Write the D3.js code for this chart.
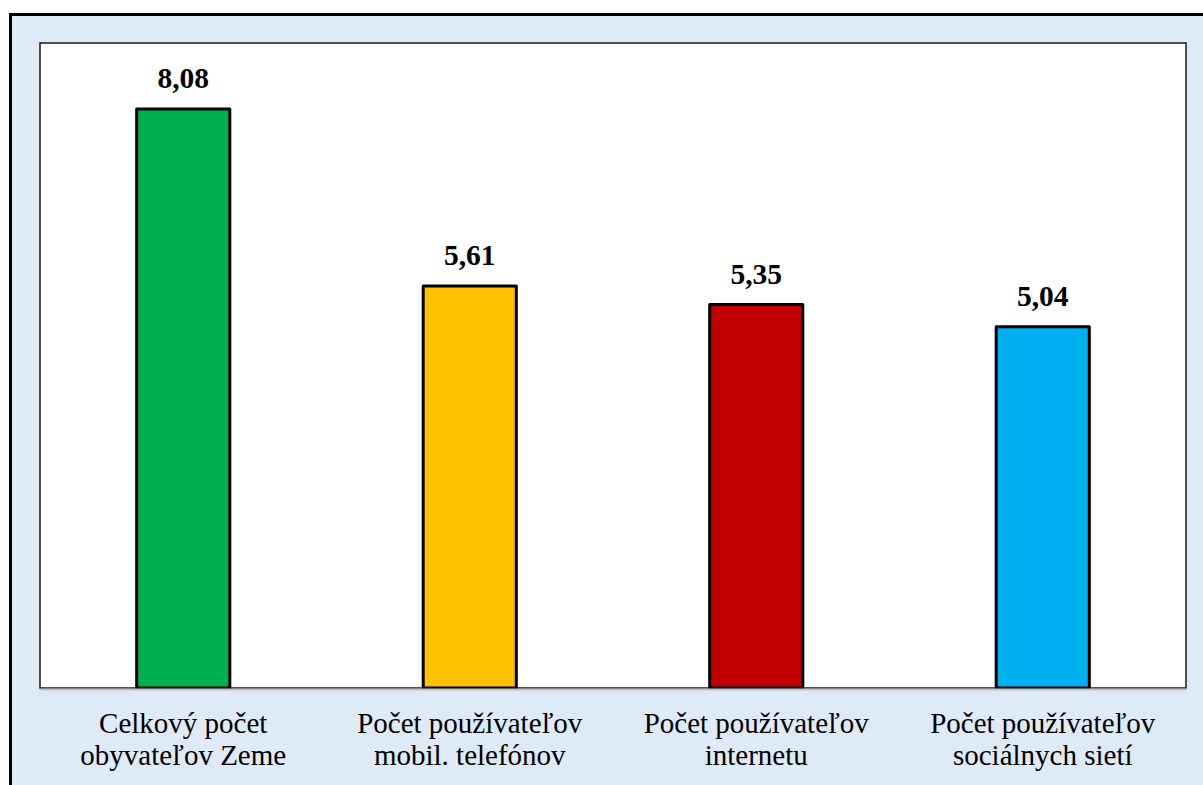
<!DOCTYPE html>
<html>
<head>
<meta charset="utf-8">
<script src="https://cdn.jsdelivr.net/npm/d3@7"></script>
<style>
html,body{margin:0;padding:0;background:#fff;overflow:hidden;}
svg{display:block;}
text{font-family:"Liberation Serif","Times New Roman",Times,serif;}
</style>
</head>
<body>
<svg id="chart" width="1203" height="785"></svg>
<script>
const categories = [
  ["Celkový počet", "obyvateľov Zeme"],
  ["Počet používateľov", "mobil. telefónov"],
  ["Počet používateľov", "internetu"],
  ["Počet používateľov", "sociálnych sietí"]
];
const values = [8.08, 5.61, 5.35, 5.04];
const valueLabels = ["8,08", "5,61", "5,35", "5,04"];
const colors = ["#00B050", "#FFC000", "#C00000", "#00B0F0"];

const svg = d3.select("#chart");
const plot = {left: 40, top: 43, right: 1186, bottom: 688};

// outer frame
svg.append("rect")
  .attr("x", 10.5).attr("y", 14.5)
  .attr("width", 1250).attr("height", 850)
  .attr("fill", "#DEEAF6")
  .attr("stroke", "#000").attr("stroke-width", 3);

// plot area
svg.append("rect")
  .attr("x", plot.left).attr("y", plot.top)
  .attr("width", plot.right - plot.left).attr("height", plot.bottom - plot.top)
  .attr("fill", "#fff")
  .attr("stroke", "#1a1a1a").attr("stroke-width", 1.5);

const x = d3.scaleBand()
  .domain(d3.range(categories.length))
  .range([plot.left, plot.right])
  .paddingInner(0.675).paddingOuter(0.3375);

const y = d3.scaleLinear().domain([0, 9]).range([plot.bottom, plot.top]);

// bars
svg.append("g").selectAll("rect")
  .data(values)
  .join("rect")
  .attr("x", (d, i) => x(i))
  .attr("y", d => y(d))
  .attr("width", x.bandwidth())
  .attr("height", d => y(0) - y(d))
  .attr("fill", (d, i) => colors[i])
  .attr("stroke", "#000")
  .attr("stroke-width", 3)
  .attr("stroke-linejoin", "round");

// axis line
const axis = svg.append("g")
  .attr("transform", `translate(0,${plot.bottom + 1})`)
  .call(d3.axisBottom(x).tickSize(0).tickFormat(""));
axis.select(".domain").attr("stroke", "#BFBFBF").attr("stroke-width", 2);

// value labels
svg.append("g").selectAll("text")
  .data(values)
  .join("text")
  .attr("x", (d, i) => x(i) + x.bandwidth() / 2)
  .attr("y", d => y(d) - 21)
  .attr("text-anchor", "middle")
  .attr("font-weight", "bold")
  .attr("font-size", 29.5)
  .attr("fill", "#000")
  .text((d, i) => valueLabels[i]);

// category labels
const cat = svg.append("g").selectAll("text")
  .data(categories)
  .join("text")
  .attr("x", (d, i) => x(i) + x.bandwidth() / 2)
  .attr("y", 733)
  .attr("text-anchor", "middle")
  .attr("font-size", 29)
  .attr("fill", "#000");
cat.selectAll("tspan")
  .data(d => d)
  .join("tspan")
  .attr("x", function() { return d3.select(this.parentNode).attr("x"); })
  .attr("dy", (d, i) => i === 0 ? 0 : 32)
  .text(d => d);
</script>
</body>
</html>
